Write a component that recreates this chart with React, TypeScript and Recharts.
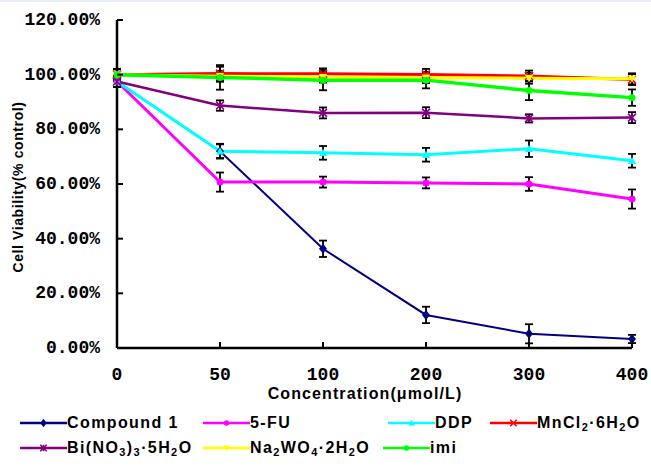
import React from 'react';
import { LineChart, Line, XAxis, YAxis, ErrorBar, Legend, Label } from 'recharts';

// concentration categories (µmol/L)
const concentrations = ['0', '50', '100', '200', '300', '400'];
const yTicks = [0, 20, 40, 60, 80, 100, 120];
const yTickLabels = ['0.00%', '20.00%', '40.00%', '60.00%', '80.00%', '100.00%', '120.00%'];

// cell viability (% control) and error (±)
const compound1 = [97.5, 72, 36.3, 12.1, 5.2, 3.3];
const compound1Err = [2, 2.5, 3, 3, 3.5, 1.5];
const fu5 = [97.5, 60.7, 60.7, 60.4, 60, 54.5];
const fu5Err = [2, 3.5, 2, 2, 2.5, 3.5];
const ddp = [97.5, 72, 71.4, 70.7, 72.9, 68.5];
const ddpErr = [2, 2.7, 2.5, 2.5, 3, 2.5];
const mncl2 = [100, 100.4, 100.3, 100.1, 99.5, 98.2];
const mncl2Err = [2, 2.5, 2, 2, 2, 2];
const bino3 = [97.5, 88.7, 86, 86.1, 84, 84.3];
const bino3Err = [2, 1.9, 2, 2, 1.5, 2];
const na2wo4 = [100, 99.4, 99.1, 98.9, 98.7, 98.5];
const na2wo4Err = [2, 2, 2, 2, 2, 2];
const imi = [100, 99, 98, 98, 94.2, 91.6];
const imiErr = [2, 4.5, 3.7, 3, 3.5, 3];

const data = concentrations.map((conc, i) => ({
  conc,
  compound1: compound1[i], compound1Err: compound1Err[i],
  fu5: fu5[i], fu5Err: fu5Err[i],
  ddp: ddp[i], ddpErr: ddpErr[i],
  mncl2: mncl2[i], mncl2Err: mncl2Err[i],
  bino3: bino3[i], bino3Err: bino3Err[i],
  na2wo4: na2wo4[i], na2wo4Err: na2wo4Err[i],
  imi: imi[i], imiErr: imiErr[i],
}));

type MarkerKind = 'diamond' | 'circle' | 'triangle' | 'cross' | 'star' | 'triangleDown';

const series: { key: string; color: string; width: number; marker: MarkerKind }[] = [
  { key: 'compound1', color: '#000080', width: 2, marker: 'diamond' },
  { key: 'fu5', color: '#ff00ff', width: 3, marker: 'circle' },
  { key: 'ddp', color: '#00ffff', width: 3, marker: 'triangle' },
  { key: 'mncl2', color: '#ff0000', width: 3, marker: 'cross' },
  { key: 'bino3', color: '#800080', width: 2.5, marker: 'star' },
  { key: 'na2wo4', color: '#ffff00', width: 3, marker: 'triangleDown' },
  { key: 'imi', color: '#00ff00', width: 3.5, marker: 'circle' },
];

const sub = (t: string) => (
  <sub style={{ fontSize: 11, verticalAlign: -3, lineHeight: 0 }}>{t}</sub>
);

const legendLabels: Record<string, React.ReactNode> = {
  compound1: 'Compound 1',
  fu5: '5-FU',
  ddp: 'DDP',
  mncl2: <>MnCl{sub('2')}·6H{sub('2')}O</>,
  bino3: <>Bi(NO{sub('3')}){sub('3')}·5H{sub('2')}O</>,
  na2wo4: <>Na{sub('2')}WO{sub('4')}·2H{sub('2')}O</>,
  imi: 'imi',
};

const legendSlots: Record<string, { left: number; top: number }> = {
  compound1: { left: 20, top: 15 },
  fu5: { left: 203, top: 15 },
  ddp: { left: 388, top: 15 },
  mncl2: { left: 490, top: 15 },
  bino3: { left: 20, top: 40 },
  na2wo4: { left: 203, top: 40 },
  imi: { left: 383, top: 40 },
};

const MarkerShape = ({ kind, cx, cy, color, s = 1 }: { kind: MarkerKind; cx: number; cy: number; color: string; s?: number }) => {
  const r = 4 * s;
  switch (kind) {
    case 'diamond':
      return <path d={`M${cx},${cy - r - 1} L${cx + r},${cy} L${cx},${cy + r + 1} L${cx - r},${cy} Z`} fill={color} />;
    case 'circle':
      return <circle cx={cx} cy={cy} r={r - 0.5} fill={color} />;
    case 'triangle':
      return <path d={`M${cx},${cy - r} L${cx + r},${cy + r * 0.8} L${cx - r},${cy + r * 0.8} Z`} fill={color} />;
    case 'triangleDown':
      return <path d={`M${cx},${cy + r} L${cx + r},${cy - r * 0.8} L${cx - r},${cy - r * 0.8} Z`} fill={color} />;
    case 'cross':
      return (
        <g stroke={color} strokeWidth={1.6}>
          <line x1={cx - r} y1={cy - r} x2={cx + r} y2={cy + r} />
          <line x1={cx - r} y1={cy + r} x2={cx + r} y2={cy - r} />
        </g>
      );
    case 'star':
      return (
        <g stroke={color} strokeWidth={1.6}>
          <line x1={cx - r} y1={cy - r} x2={cx + r} y2={cy + r} />
          <line x1={cx - r} y1={cy + r} x2={cx + r} y2={cy - r} />
          <line x1={cx} y1={cy - r} x2={cx} y2={cy + r} />
        </g>
      );
  }
  return null;
};

const tickFont = { fontFamily: '"Liberation Mono", monospace', fontWeight: 700, fontSize: 18 };
const labelFont = { fontFamily: '"Liberation Sans", Arial, sans-serif', fontWeight: 700 };

const YTick = (props: any) => {
  const { x, y, payload, index } = props;
  return (
    <g>
      <line x1={x} y1={y} x2={x + 6} y2={y} stroke="#000" strokeWidth={2} />
      <text x={x - 17} y={y} textAnchor="end" dominantBaseline="central" fill="#000" style={tickFont}>
        {yTickLabels[yTicks.indexOf(payload.value)] ?? yTickLabels[index]}
      </text>
    </g>
  );
};

const XTick = (props: any) => {
  const { x, y, payload } = props;
  return (
    <g>
      <line x1={x} y1={y} x2={x} y2={y - 6} stroke="#000" strokeWidth={2} />
      <text x={x} y={y + 27} textAnchor="middle" dominantBaseline="central" fill="#000" style={tickFont}>
        {payload.value}
      </text>
    </g>
  );
};

const renderLegend = () => (
  <div style={{ position: 'relative', width: 651, height: 58 }}>
    {series.map(s => (
      <div
        key={s.key}
        style={{
          position: 'absolute',
          left: legendSlots[s.key].left,
          top: legendSlots[s.key].top - 10,
          height: 20,
          display: 'flex',
          alignItems: 'center',
          whiteSpace: 'nowrap',
        }}
      >
        <svg width={47} height={14} style={{ display: 'block' }}>
          <line x1={0} y1={7} x2={47} y2={7} stroke={s.color} strokeWidth={2.5} />
          <MarkerShape kind={s.marker} cx={23.5} cy={7} color={s.color} s={0.8} />
        </svg>
        <span style={{ ...labelFont, fontSize: 16, letterSpacing: 1.4, color: '#000', lineHeight: '20px' }}>
          {legendLabels[s.key]}
        </span>
      </div>
    ))}
  </div>
);

export default function App() {
  return (
    <div style={{ position: 'absolute', left: 0, top: 0, width: 651, height: 466, background: '#fff', borderTop: '2px solid #e8eef6', boxSizing: 'border-box' }}>
      <LineChart width={651} height={464} data={data} margin={{ top: 18, right: 19, bottom: 0, left: 0 }}>
        <XAxis
          dataKey="conc"
          height={118}
          axisLine={{ stroke: '#000', strokeWidth: 2.5 }}
          tickLine={false}
          tickSize={0}
          tickMargin={0}
          tick={<XTick />}
          interval={0}
        >
          <Label
            content={() => (
              <text x={365} y={391} textAnchor="middle" dominantBaseline="central" fill="#000" style={{ ...labelFont, fontSize: 16, letterSpacing: 1.1 }}>
                Concentration(μmol/L)
              </text>
            )}
          />
        </XAxis>
        <YAxis
          width={117}
          domain={[0, 120]}
          ticks={yTicks}
          axisLine={{ stroke: '#000', strokeWidth: 2.5 }}
          tickLine={false}
          tickSize={0}
          tickMargin={0}
          tick={<YTick />}
          interval={0}
        >
          <Label
            content={() => (
              <text
                x={18}
                y={185}
                transform="rotate(-90 18 185)"
                textAnchor="middle"
                dominantBaseline="central"
                fill="#000"
                style={{ ...labelFont, fontSize: 14, letterSpacing: 0.6 }}
              >
                Cell Viability(% control)
              </text>
            )}
          />
        </YAxis>
        <Legend
          layout="horizontal"
          verticalAlign="middle"
          wrapperStyle={{ top: 406, left: 0, width: 651, height: 58 }}
          content={renderLegend}
        />
        {series.map(s => (
          <Line
            key={s.key}
            dataKey={s.key}
            stroke={s.color}
            strokeWidth={s.width}
            isAnimationActive={false}
            dot={(p: any) => (
              <g key={`${s.key}-${p.index}`}>
                <MarkerShape kind={s.marker} cx={p.cx} cy={p.cy} color={s.color} />
              </g>
            )}
            activeDot={false}
          >
            <ErrorBar dataKey={`${s.key}Err`} direction="y" width={4} stroke="#000" strokeWidth={1.8} isAnimationActive={false} />
          </Line>
        ))}
      </LineChart>
    </div>
  );
}
